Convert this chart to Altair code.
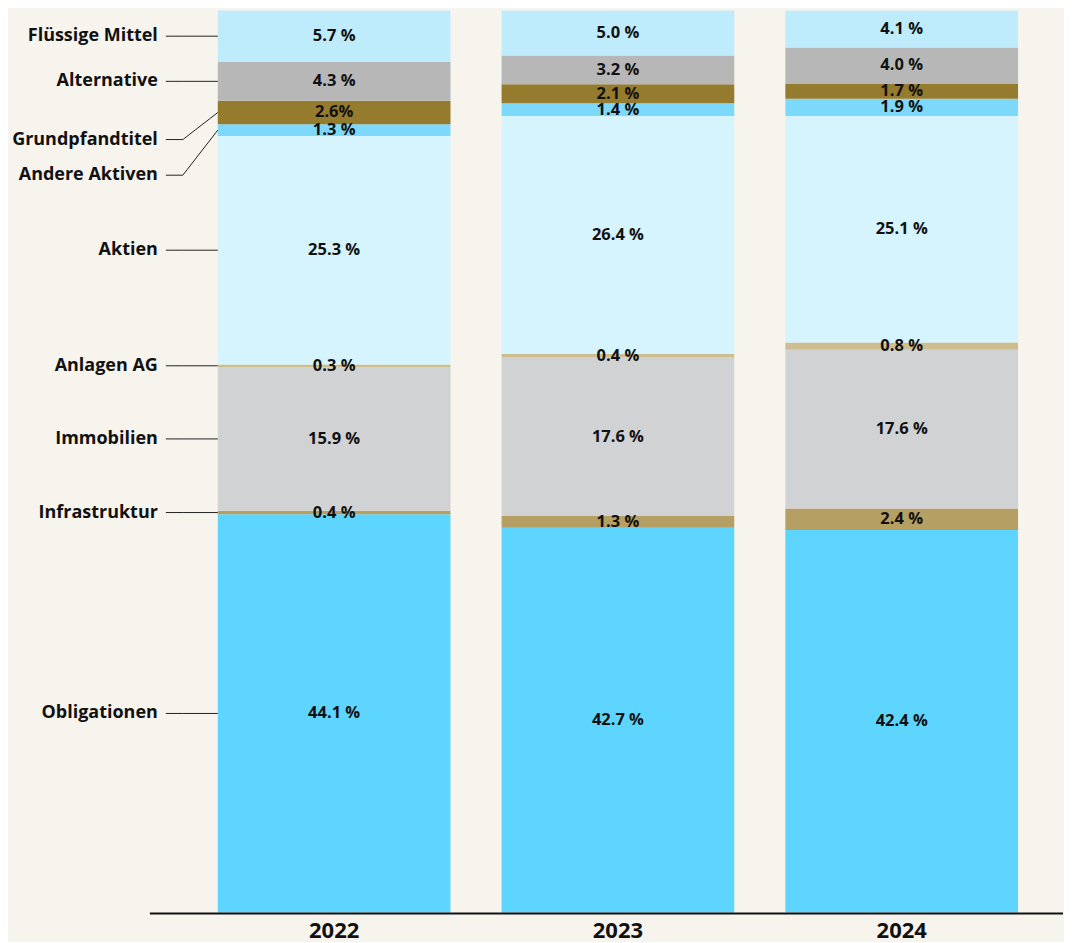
import altair as alt
import pandas as pd

years = ["2022", "2023", "2024"]
categories = ["Obligationen", "Infrastruktur", "Immobilien", "Anlagen AG", "Aktien",
              "Andere Aktiven", "Grundpfandtitel", "Alternative", "Flüssige Mittel"]
values = {
    "Obligationen":    [44.1, 42.7, 42.4],
    "Infrastruktur":   [0.4, 1.3, 2.4],
    "Immobilien":      [15.9, 17.6, 17.6],
    "Anlagen AG":      [0.3, 0.4, 0.8],
    "Aktien":          [25.3, 26.4, 25.1],
    "Andere Aktiven":  [1.3, 1.4, 1.9],
    "Grundpfandtitel": [2.6, 2.1, 1.7],
    "Alternative":     [4.3, 3.2, 4.0],
    "Flüssige Mittel": [5.7, 5.0, 4.1],
}
label_overrides = {("Grundpfandtitel", "2022"): "2.6%"}
colors = ["#5ED5FE", "#B59F63", "#D1D2D4", "#CDBE90", "#D6F4FD",
          "#7DD9FC", "#957B2E", "#B7B7B7", "#BFECFC"]
# vertical nudge of the left-hand category labels (percent units)
label_nudge = {"Grundpfandtitel": -3.0, "Andere Aktiven": -5.0}

FONT = "Open Sans"
rows = []
for i, yr in enumerate(years):
    total = sum(values[c][i] for c in categories)
    cum = 0.0
    for k, c in enumerate(categories):
        v = values[c][i]
        y0 = cum / total * 100
        cum += v
        y1 = cum / total * 100
        rows.append({"year": yr, "cat": c, "order": k, "v": v, "y0": y0, "y1": y1,
                     "mid": (y0 + y1) / 2,
                     "label": label_overrides.get((c, yr), f"{v:.1f} %")})
df = pd.DataFrame(rows)

lab = df[df["year"] == years[0]][["cat", "mid"]].copy()
lab["ly"] = [m + label_nudge.get(c, 0.0) for c, m in zip(lab["cat"], lab["mid"])]

yscale = alt.Scale(domain=[0, 100], nice=False, zero=True)
xscale = alt.Scale(domain=years, range=[210, 1011], paddingInner=0.18, paddingOuter=0)

bars = alt.Chart(df).mark_bar().encode(
    x=alt.X("year:N", scale=xscale,
            axis=alt.Axis(title=None, labelAngle=0, domain=False, ticks=False,
                          labelFontSize=22, labelFont=FONT, labelFontWeight="bold",
                          labelColor="#111111", labelPadding=8)),
    y=alt.Y("y0:Q", scale=yscale, axis=None),
    y2="y1:Q",
    color=alt.Color("cat:N", scale=alt.Scale(domain=categories, range=colors), legend=None),
)

texts = alt.Chart(df).mark_text(font=FONT, fontSize=16.5, fontWeight="bold",
                                color="#111111", baseline="middle").encode(
    x=alt.X("year:N", scale=xscale),
    y=alt.Y("mid:Q", scale=yscale),
    text="label:N",
)

left_labels = alt.Chart(lab).mark_text(font=FONT, fontSize=18, fontWeight="bold",
                                       color="#111111", align="right",
                                       baseline="middle").encode(
    x=alt.value(150),
    y=alt.Y("ly:Q", scale=yscale),
    text="cat:N",
)

hrules = alt.Chart(lab).mark_rule(color="#222222", strokeWidth=1).encode(
    x=alt.value(158), x2=alt.value(175), y=alt.Y("ly:Q", scale=yscale),
)
drules = alt.Chart(lab).mark_rule(color="#222222", strokeWidth=1).encode(
    x=alt.value(175), x2=alt.value(210),
    y=alt.Y("ly:Q", scale=yscale), y2="mid:Q",
)

baseline_rule = alt.Chart(pd.DataFrame({"z": [0]})).mark_rule(
    color="#111111", strokeWidth=2).encode(
    x=alt.value(142), x2=alt.value(1056), y=alt.value(904),
)

chart = alt.layer(bars, texts, left_labels, hrules, drules, baseline_rule).properties(
    width=1056, height=903,
    padding={"left": 0, "top": 2, "right": 0, "bottom": 0},
    background="#F7F4EE",
).configure_view(stroke=None)

chart.save("out.html", embed_options={"renderer": "svg", "actions": False})
